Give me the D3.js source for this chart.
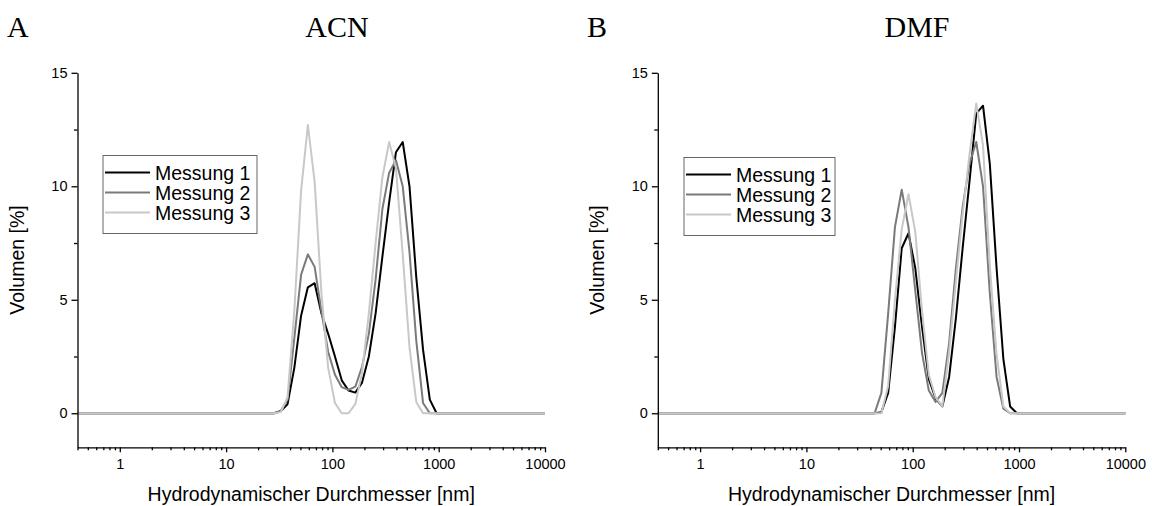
<!DOCTYPE html>
<html>
<head>
<meta charset="utf-8">
<script src="https://cdn.jsdelivr.net/npm/d3@7"></script>
<style>
    body { margin: 0; background: white; }
    .tick text { font-family: "Liberation Sans", Arial, sans-serif; font-size: 14.5px; fill: black; }
    .axis path, .axis line { stroke: black; stroke-width: 1.3; }
    .axis-title { font-family: "Liberation Sans", Arial, sans-serif; font-size: 19.5px; }
    .panel-title { font-family: "Liberation Serif", "Times New Roman", serif; font-size: 30px; }
    .legend-text { font-family: "Liberation Sans", Arial, sans-serif; font-size: 19.5px; }
</style>
</head>
<body>
<div class="mainview"></div>
<script>

// Malvern size bins [nm]
const sizes = [0.4, 0.4632, 0.5365, 0.6213, 0.7195, 0.8332, 0.9649, 1.117, 1.294, 1.499,
    1.736, 2.010, 2.328, 2.696, 3.122, 3.615, 4.187, 4.849, 5.615, 6.503,
    7.531, 8.721, 10.10, 11.70, 13.54, 15.69, 18.17, 21.04, 24.36, 28.21,
    32.67, 37.84, 43.82, 50.75, 58.77, 68.06, 78.82, 91.28, 105.7, 122.4,
    141.8, 164.2, 190.1, 220.2, 255.0, 295.3, 342.0, 396.1, 458.7, 531.2,
    615.1, 712.4, 825.0, 955.4, 1106, 1281, 1484, 1718, 1990, 2305,
    2669, 3091, 3580, 4145, 4801, 5560, 6439, 7456, 8635, 10000];

// Volumen [%] per bin
const acn1 = [0, 0, 0, 0, 0, 0, 0, 0, 0, 0, 0, 0, 0, 0, 0, 0, 0, 0, 0, 0, 0, 0, 0, 0, 0, 0, 0, 0, 0, 0,
    0.1, 0.4, 2.0, 4.3, 5.55, 5.73, 4.4, 3.5, 2.5, 1.45, 1.0, 0.91, 1.35, 2.5, 4.4, 6.9, 9.3, 11.5, 11.95, 10.0,
    6.0, 2.8, 0.6, 0, 0, 0, 0, 0, 0, 0, 0, 0, 0, 0, 0, 0, 0, 0, 0, 0];
const acn2 = [0, 0, 0, 0, 0, 0, 0, 0, 0, 0, 0, 0, 0, 0, 0, 0, 0, 0, 0, 0, 0, 0, 0, 0, 0, 0, 0, 0, 0, 0,
    0.1, 0.6, 3.3, 6.1, 7.0, 6.45, 4.5, 2.7, 1.7, 1.15, 1.03, 1.17, 2.05, 3.5, 5.9, 9.0, 10.6, 11.15, 10.0, 7.1,
    3.2, 0.45, 0, 0, 0, 0, 0, 0, 0, 0, 0, 0, 0, 0, 0, 0, 0, 0, 0, 0];
const acn3 = [0, 0, 0, 0, 0, 0, 0, 0, 0, 0, 0, 0, 0, 0, 0, 0, 0, 0, 0, 0, 0, 0, 0, 0, 0, 0, 0, 0, 0, 0,
    0.05, 0.7, 4.5, 9.8, 12.7, 10.2, 5.3, 2.0, 0.45, 0, 0, 0.4, 1.8, 4.4, 7.5, 10.4, 11.95, 10.8, 7.0, 2.9,
    0.5, 0, 0, 0, 0, 0, 0, 0, 0, 0, 0, 0, 0, 0, 0, 0, 0, 0, 0, 0];

const dmf1 = [0, 0, 0, 0, 0, 0, 0, 0, 0, 0, 0, 0, 0, 0, 0, 0, 0, 0, 0, 0, 0, 0, 0, 0, 0, 0, 0, 0, 0, 0,
    0, 0, 0, 0.05, 0.9, 3.8, 7.27, 7.93, 6.4, 3.8, 1.5, 0.65, 0.3, 1.6, 4.2, 7.3, 10.2, 13.2, 13.55, 11.0,
    6.4, 2.4, 0.3, 0, 0, 0, 0, 0, 0, 0, 0, 0, 0, 0, 0, 0, 0, 0, 0, 0];
const dmf2 = [0, 0, 0, 0, 0, 0, 0, 0, 0, 0, 0, 0, 0, 0, 0, 0, 0, 0, 0, 0, 0, 0, 0, 0, 0, 0, 0, 0, 0, 0,
    0, 0, 0, 0.9, 4.4, 8.2, 9.85, 8.2, 5.4, 2.65, 1.0, 0.5, 0.9, 3.1, 6.4, 9.1, 11.0, 11.95, 10.0, 5.3,
    1.6, 0.2, 0, 0, 0, 0, 0, 0, 0, 0, 0, 0, 0, 0, 0, 0, 0, 0, 0, 0];
const dmf3 = [0, 0, 0, 0, 0, 0, 0, 0, 0, 0, 0, 0, 0, 0, 0, 0, 0, 0, 0, 0, 0, 0, 0, 0, 0, 0, 0, 0, 0, 0,
    0, 0, 0, 0, 1.2, 5.0, 8.1, 9.65, 8.0, 4.5, 1.7, 0.7, 0.3, 2.7, 5.8, 8.8, 11.4, 13.65, 11.8, 6.5,
    2.6, 0.3, 0, 0, 0, 0, 0, 0, 0, 0, 0, 0, 0, 0, 0, 0, 0, 0, 0, 0];

const seriesNames = ["Messung 1", "Messung 2", "Messung 3"];
const xTickValues = [1, 10, 100, 1000, 10000];
const xMinorValues = [0.4, 0.5, 0.6, 0.7, 0.8, 0.9,
    2, 3, 4, 5, 6, 7, 8, 9, 20, 30, 40, 50, 60, 70, 80, 90,
    200, 300, 400, 500, 600, 700, 800, 900, 2000, 3000, 4000, 5000, 6000, 7000, 8000, 9000];
const yTickValues = [0, 5, 10, 15];
const yMinorValues = [2.5, 7.5, 12.5];

const colors = ["#000000", "#7a7a7a", "#c8c8c8"];

const dim = { width: 1152, height: 506 };
const plot = { top: 72.8, bottom: 447.3, width: 467.5 };

const svg = d3.select(".mainview").append("svg")
    .attr("width", dim.width)
    .attr("height", dim.height);

drawPanel(svg, {
    left: 77.5, letter: "A", letterX: 7, title: "ACN", titleX: 337,
    data: [acn1, acn2, acn3], legend: { x: 103, y: 155.5, w: 154 }
});
drawPanel(svg, {
    left: 657.8, letter: "B", letterX: 587, title: "DMF", titleX: 917,
    data: [dmf1, dmf2, dmf3], legend: { x: 684, y: 157.5, w: 151 }
});

function drawPanel(svg, o) {

    const g = svg.append("g");

    const x = d3.scaleLog()
        .domain([0.4, 10000])
        .range([o.left, o.left + plot.width]);

    const y = d3.scaleLinear()
        .domain([-1.5, 15])
        .range([plot.bottom, plot.top]);

    // titles
    g.append("text")
        .attr("class", "panel-title")
        .attr("x", o.letterX)
        .attr("y", 37)
        .text(o.letter);

    g.append("text")
        .attr("class", "panel-title")
        .attr("x", o.titleX)
        .attr("y", 37)
        .attr("text-anchor", "middle")
        .text(o.title);

    // lines
    const line = d3.line()
        .x((d, i) => x(sizes[i]))
        .y(d => y(d));

    o.data.forEach((series, k) => {
        g.append("path")
            .attr("d", line(series))
            .attr("fill", "none")
            .attr("stroke", colors[k])
            .attr("stroke-width", 2)
            .attr("stroke-linejoin", "round");
    });

    // x axis
    g.append("g")
        .attr("class", "axis x")
        .attr("transform", `translate(0, ${ plot.bottom })`)
        .call(d3.axisBottom(x)
            .tickValues(xMinorValues)
            .tickSize(3)
            .tickFormat(""))
        .call(s => s.select(".domain").remove());

    g.append("g")
        .attr("class", "axis x")
        .attr("transform", `translate(0, ${ plot.bottom })`)
        .call(d3.axisBottom(x)
            .tickValues(xTickValues)
            .tickSize(5)
            .tickSizeOuter(0)
            .tickPadding(6)
            .tickFormat(d3.format("d")));

    // y axis
    g.append("g")
        .attr("class", "axis y")
        .attr("transform", `translate(${ o.left }, 0)`)
        .call(d3.axisLeft(y)
            .tickValues(yMinorValues)
            .tickSize(3.5)
            .tickFormat(""))
        .call(s => s.select(".domain").remove());

    g.append("g")
        .attr("class", "axis y")
        .attr("transform", `translate(${ o.left }, 0)`)
        .call(d3.axisLeft(y)
            .tickValues(yTickValues)
            .tickSize(6)
            .tickSizeOuter(0)
            .tickPadding(4)
            .tickFormat(d3.format("d")));

    // axis titles
    g.append("text")
        .attr("class", "axis-title")
        .attr("x", o.left + plot.width / 2)
        .attr("y", 501)
        .attr("text-anchor", "middle")
        .text("Hydrodynamischer Durchmesser [nm]");

    g.append("text")
        .attr("class", "axis-title")
        .attr("transform", `translate(${ o.left - 54 }, ${ (plot.top + plot.bottom) / 2 }) rotate(-90)`)
        .attr("text-anchor", "middle")
        .text("Volumen [%]");

    // legend
    const lg = g.append("g")
        .attr("transform", `translate(${ o.legend.x }, ${ o.legend.y })`);

    lg.append("rect")
        .attr("width", o.legend.w)
        .attr("height", 78)
        .attr("fill", "white")
        .attr("stroke", "#666")
        .attr("stroke-width", 1);

    seriesNames.forEach((name, k) => {
        const yy = 17 + k * 20;
        lg.append("line")
            .attr("x1", 2).attr("x2", 47)
            .attr("y1", yy).attr("y2", yy)
            .attr("stroke", colors[k])
            .attr("stroke-width", 2);
        lg.append("text")
            .attr("class", "legend-text")
            .attr("x", 52)
            .attr("y", yy + 7)
            .text(name);
    });
}

</script>
</body>
</html>
